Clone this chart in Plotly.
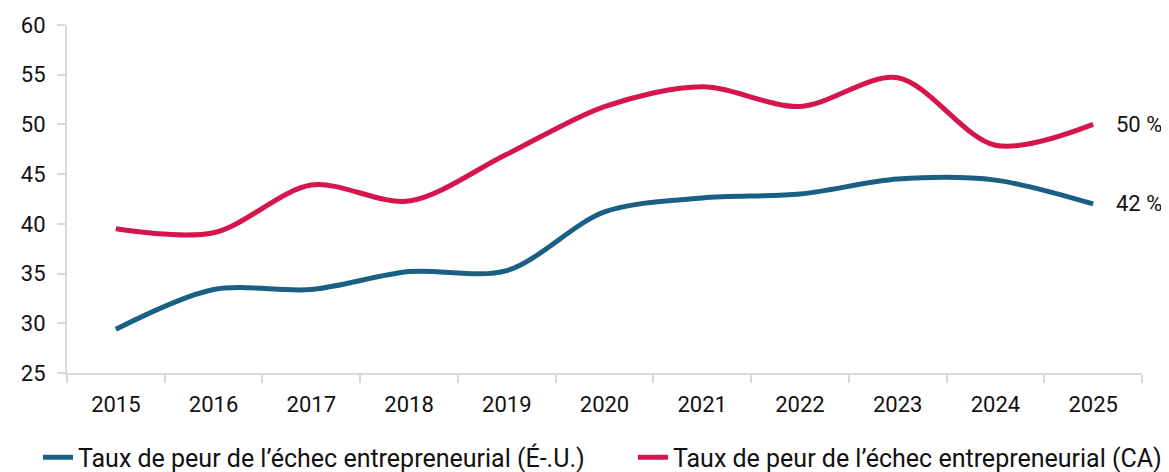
import plotly.graph_objects as go

years = ["2015", "2016", "2017", "2018", "2019", "2020", "2021", "2022", "2023", "2024", "2025"]
us_fear = [29.4, 33.4, 33.4, 35.2, 35.3, 41.2, 42.6, 43.0, 44.5, 44.4, 42.0]
ca_fear = [39.5, 39.1, 43.9, 42.3, 47.0, 51.8, 53.8, 51.8, 54.7, 47.9, 50.0]
us_name = "Taux de peur de l’échec entrepreneurial (É-.U.)"
ca_name = "Taux de peur de l’échec entrepreneurial (CA)"
y_ticks = [25, 30, 35, 40, 45, 50, 55, 60]

BLUE = "#1a6085"
RED = "#d5154b"
FONT = "Roboto, Liberation Sans, sans-serif"
AX = "#d9d9d9"
TXT = "#111111"

fig = go.Figure()
fig.add_trace(go.Scatter(x=years, y=us_fear, name=us_name, mode="lines", legend="legend",
                         line=dict(color=BLUE, width=5, shape="spline", smoothing=0.9)))
fig.add_trace(go.Scatter(x=years, y=ca_fear, name=ca_name, mode="lines", legend="legend2",
                         line=dict(color=RED, width=5, shape="spline", smoothing=0.9)))

last = len(years) - 1
for vals in (ca_fear, us_fear):
    fig.add_annotation(x=last, y=vals[-1], xref="x", yref="y",
                       text=f"{vals[-1]:.0f} %", showarrow=False,
                       xanchor="left", yanchor="middle", xshift=21,
                       font=dict(size=22, color=TXT, family=FONT))

leg_common = dict(orientation="h", xanchor="left", y=-0.177, yanchor="top",
                  font=dict(size=25, family=FONT, color=TXT), bgcolor="rgba(0,0,0,0)")

fig.update_layout(
    width=1161, height=464,
    margin=dict(l=59, r=27, t=17, b=99, autoexpand=False),
    paper_bgcolor="white", plot_bgcolor="white",
    font=dict(family=FONT, size=22, color=TXT),
    showlegend=True,
    legend=dict(x=-0.027, **leg_common),
    legend2=dict(x=0.5265, **leg_common),
)
fig.update_xaxes(type="category", range=[-0.5, len(years) - 0.5], automargin=False,
                 tickson="boundaries", ticks="outside", ticklen=8,
                 tickcolor=AX, tickwidth=2, showline=True, linecolor=AX,
                 linewidth=2, showgrid=False, zeroline=False,
                 ticklabelstandoff=11,
                 tickfont=dict(size=22, family=FONT, color=TXT))
fig.update_yaxes(range=[25, 60], tickvals=y_ticks, ticks="outside", ticklen=8,
                 automargin=False,
                 tickcolor=AX, tickwidth=2, showline=True, linecolor=AX,
                 linewidth=2, showgrid=False, zeroline=False,
                 ticklabelstandoff=7,
                 tickfont=dict(size=22, family=FONT, color=TXT))

fig.write_html("out.html")
